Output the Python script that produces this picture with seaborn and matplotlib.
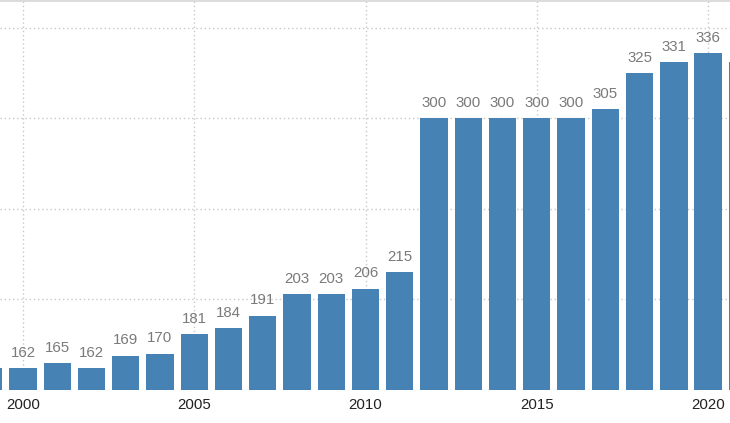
import matplotlib
matplotlib.use("Agg")
import matplotlib.pyplot as plt
import seaborn as sns
import pandas as pd

years = [1999, 2000, 2001, 2002, 2003, 2004, 2005, 2006, 2007, 2008, 2009, 2010,
         2011, 2012, 2013, 2014, 2015, 2016, 2017, 2018, 2019, 2020, 2021]
values = [162, 162, 165, 162, 169, 170, 181, 184, 191, 203, 203, 206,
          215, 300, 300, 300, 300, 300, 305, 325, 331, 336, 331]
xticks = [2000, 2005, 2010, 2015, 2020]
yticks = [150, 200, 250, 300, 350]

sns.set_style("white")
plt.rcParams["font.family"] = ["Liberation Sans", "DejaVu Sans"]

df = pd.DataFrame({"year": years, "value": values})

fig = plt.figure(figsize=(7.3, 4.23), dpi=100)
ax = fig.add_axes([0, 33 / 423, 1, 389 / 423])

sns.barplot(data=df, x="year", y="value", native_scale=True, width=0.8,
            color="#4682b4", saturation=1, linewidth=0, ax=ax, zorder=2)

ax.set_xlim(1999.33, 2020.64)
ax.set_ylim(150, 364.8)
ax.set_xticks(xticks)
ax.set_xticklabels([str(t) for t in xticks])
ax.set_yticks(yticks)
ax.set_yticklabels([])
ax.set_xlabel("")
ax.set_ylabel("")

ax.set_axisbelow(True)
ax.grid(True, axis="both", linestyle=(0, (1, 2)), color="#c8c8c8", linewidth=1)

for side in ["left", "right", "bottom"]:
    ax.spines[side].set_visible(False)
ax.spines["top"].set_visible(True)
ax.spines["top"].set_color("#d6d6d6")
ax.spines["top"].set_linewidth(1.2)

ax.tick_params(axis="x", length=3, width=1, color="#c8c8c8", pad=2.5,
               labelsize=10.8, labelcolor="#222222")
ax.tick_params(axis="y", length=0, labelleft=False)

for cont in ax.containers:
    ax.bar_label(cont, labels=[str(v) for v in values], padding=6,
                 fontsize=10.8, color="#7a7a7a")

fig.savefig("out.png", dpi=100)
